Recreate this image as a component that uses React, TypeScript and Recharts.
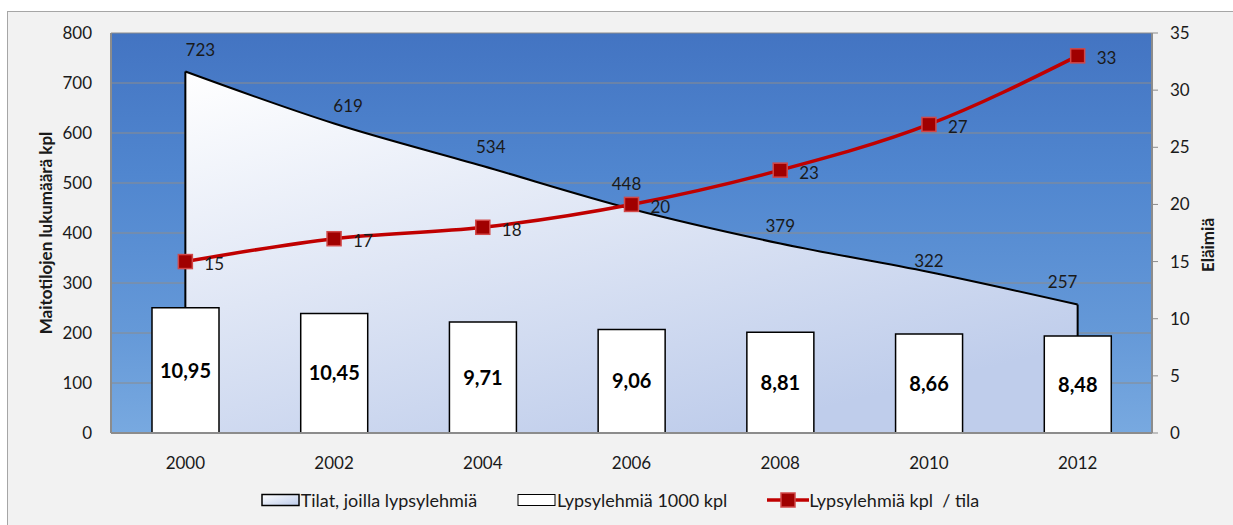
import React from 'react';
import {
  ComposedChart,
  Area,
  Bar,
  Line,
  XAxis,
  YAxis,
  CartesianGrid,
  Legend,
  LabelList,
  ReferenceLine,
  ReferenceArea,
} from 'recharts';

const YEARS = ['2000', '2002', '2004', '2006', '2008', '2010', '2012'];
const FARMS = [723, 619, 534, 448, 379, 322, 257];
const COWS_THOUSANDS = [10.95, 10.45, 9.71, 9.06, 8.81, 8.66, 8.48];
const COWS_PER_FARM = [15, 17, 18, 20, 23, 27, 33];
const LEFT_TICKS = [0, 100, 200, 300, 400, 500, 600, 700, 800];
const RIGHT_TICKS = [0, 5, 10, 15, 20, 25, 30, 35];

const SERIES_NAMES = ['Tilat, joilla lypsylehmiä', 'Lypsylehmiä 1000 kpl', 'Lypsylehmiä kpl  / tila'];

// label nudges for the farm counts (Excel had them placed by hand)
const FARM_LABEL_DX = [15, 14, 8, -5, 0, 0, -15];
const FARM_LABEL_DY = [22, 18, 20, 26, 18, 12, 23];

const FONT = 'Lato, "Open Sans", sans-serif';
const TEXT = '#1a1a1a';
const AXIS_GREY = '#8c8c8c';
const RED = '#c00000';

const data = YEARS.map((year, i) => ({
  year,
  farms: FARMS[i],
  cows: COWS_THOUSANDS[i],
  perFarm: COWS_PER_FARM[i],
}));

const tickStyle = { fontSize: 17, fill: TEXT, fontFamily: FONT };

const FarmLabel = (props: any) => {
  const { x, y, value, index } = props;
  return (
    <text
      x={x + FARM_LABEL_DX[index]}
      y={y - FARM_LABEL_DY[index]}
      textAnchor="middle"
      dominantBaseline="central"
      fontSize={17}
      fontFamily={FONT}
      fill={TEXT}
    >
      {value}
    </text>
  );
};

const PerFarmLabel = (props: any) => {
  const { x, y, value } = props;
  return (
    <text x={x + 19} y={y + 2} dominantBaseline="central" fontSize={17} fontFamily={FONT} fill={TEXT}>
      {value}
    </text>
  );
};

const SquareDot = (props: any) => {
  const { cx, cy, index } = props;
  return (
    <rect key={index} x={cx - 7} y={cy - 7} width={14} height={14} fill="#a00000" stroke="#d24848" strokeWidth={1.5} />
  );
};

const LegendContent = () => (
  <div
    style={{
      display: 'flex',
      justifyContent: 'center',
      alignItems: 'center',
      gap: 40,
      paddingTop: 15,
      fontFamily: FONT,
      fontSize: 18,
      color: TEXT,
      whiteSpace: 'pre',
    }}
  >
    <div style={{ display: 'flex', alignItems: 'center' }}>
      <svg width={40} height={14}>
        <defs>
          <linearGradient id="legArea" x1="0" y1="0" x2="1" y2="1">
            <stop offset="0%" stopColor="#ffffff" />
            <stop offset="100%" stopColor="#bccbeb" />
          </linearGradient>
        </defs>
        <rect x={1} y={1.5} width={37} height={11} fill="url(#legArea)" stroke="#000" strokeWidth={1.5} />
      </svg>
      <span>{SERIES_NAMES[0]}</span>
    </div>
    <div style={{ display: 'flex', alignItems: 'center' }}>
      <svg width={40} height={14}>
        <rect x={1} y={1.5} width={37} height={11} fill="#ffffff" stroke="#000" strokeWidth={1} />
      </svg>
      <span>{SERIES_NAMES[1]}</span>
    </div>
    <div style={{ display: 'flex', alignItems: 'center' }}>
      <svg width={42} height={16}>
        <line x1={0} y1={8} x2={42} y2={8} stroke={RED} strokeWidth={3.5} />
        <rect x={14} y={1} width={14} height={14} fill="#a00000" stroke="#d24848" strokeWidth={1.5} />
      </svg>
      <span>{SERIES_NAMES[2]}</span>
    </div>
  </div>
);

export default function App() {
  return (
    <div
      style={{
        position: 'absolute',
        left: 7,
        top: 11,
        width: 1226,
        height: 514,
        boxSizing: 'border-box',
        borderTop: '1px solid #a6a6a6',
        borderLeft: '1px solid #a6a6a6',
        background: '#f2f2f2',
      }}
    >
      <ComposedChart width={1224} height={512} data={data} margin={{ top: 21, right: 0, bottom: 0, left: 0 }}>
        <defs>
          <linearGradient id="sky" x1="0" y1="0" x2="0" y2="1">
            <stop offset="0%" stopColor="#4374c2" />
            <stop offset="35%" stopColor="#5086cf" />
            <stop offset="75%" stopColor="#6599d8" />
            <stop offset="100%" stopColor="#78a9e0" />
          </linearGradient>
          <radialGradient id="clouds" cx="0.85" cy="0.6" r="0.35">
            <stop offset="0%" stopColor="#ffffff" stopOpacity={0.35} />
            <stop offset="100%" stopColor="#ffffff" stopOpacity={0} />
          </radialGradient>
          <linearGradient id="farmFill" x1="0" y1="0" x2="0.6" y2="1">
            <stop offset="0%" stopColor="#ffffff" />
            <stop offset="100%" stopColor="#bfcdeb" />
          </linearGradient>
        </defs>
        <CartesianGrid vertical={false} stroke={AXIS_GREY} fill="url(#sky)" yAxisId="left" />
        <ReferenceArea yAxisId="left" fill="url(#clouds)" fillOpacity={1} stroke="none" zIndex={-50} />
        <XAxis
          dataKey="year"
          tickSize={0}
          tickMargin={24}
          height={41}
          tick={tickStyle}
          axisLine={{ stroke: AXIS_GREY, strokeWidth: 2 }}
        />
        <YAxis
          yAxisId="left"
          width={103}
          domain={[0, 800]}
          ticks={LEFT_TICKS}
          tickSize={0}
          tickMargin={19}
          tick={tickStyle}
          axisLine={{ stroke: AXIS_GREY, strokeWidth: 2 }}
          label={{
            value: 'Maitotilojen lukumäärä kpl',
            angle: -90,
            position: 'center',
            dx: -14,
            style: { fontSize: 17, fontWeight: 700, fill: TEXT, fontFamily: FONT, textAnchor: 'middle' },
          }}
        />
        <YAxis
          yAxisId="right"
          orientation="right"
          width={80}
          domain={[0, 35]}
          ticks={RIGHT_TICKS}
          tickSize={6}
          tickMargin={12}
          tick={tickStyle}
          tickLine={{ stroke: AXIS_GREY }}
          axisLine={{ stroke: AXIS_GREY, strokeWidth: 2 }}
          label={{
            value: 'Eläimiä',
            angle: -90,
            position: 'center',
            dx: 16,
            dy: 12,
            style: { fontSize: 17, fontWeight: 700, fill: TEXT, fontFamily: FONT, textAnchor: 'middle' },
          }}
        />
        <Area
          yAxisId="left"
          type="monotone"
          dataKey="farms"
          name={SERIES_NAMES[0]}
          stroke="#000"
          strokeWidth={2}
          fill="url(#farmFill)"
          fillOpacity={1}
          isAnimationActive={false}
        >
          <LabelList dataKey="farms" content={FarmLabel} />
        </Area>
        <ReferenceLine
          yAxisId="left"
          segment={[
            { x: YEARS[0], y: 0 },
            { x: YEARS[0], y: FARMS[0] },
          ]}
          stroke="#000"
          strokeWidth={2}
          zIndex={150}
        />
        <ReferenceLine
          yAxisId="left"
          segment={[
            { x: YEARS[YEARS.length - 1], y: 0 },
            { x: YEARS[YEARS.length - 1], y: FARMS[FARMS.length - 1] },
          ]}
          stroke="#000"
          strokeWidth={2}
          zIndex={150}
        />
        <Bar
          yAxisId="right"
          dataKey="cows"
          name={SERIES_NAMES[1]}
          barSize={67}
          fill="#ffffff"
          stroke="#000"
          strokeWidth={1.5}
          isAnimationActive={false}
        >
          <LabelList
            dataKey="cows"
            position="center"
            formatter={(v: any) => Number(v).toFixed(2).replace('.', ',')}
            style={{ fontSize: 20, fontWeight: 700, fill: '#000', fontFamily: FONT }}
          />
        </Bar>
        <Line
          yAxisId="right"
          type="monotone"
          dataKey="perFarm"
          name={SERIES_NAMES[2]}
          stroke={RED}
          strokeWidth={3.5}
          dot={SquareDot}
          activeDot={false}
          isAnimationActive={false}
        >
          <LabelList dataKey="perFarm" content={PerFarmLabel} />
        </Line>
        <Legend verticalAlign="bottom" height={50} content={LegendContent} />
      </ComposedChart>
    </div>
  );
}
